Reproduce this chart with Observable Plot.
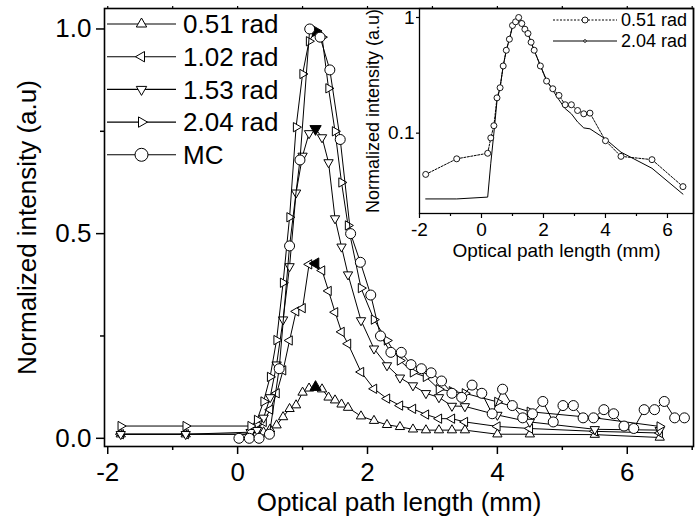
<!DOCTYPE html>
<html>
<head>
<meta charset="utf-8">
<script src="https://cdn.jsdelivr.net/npm/d3@7"></script>
<script src="https://cdn.jsdelivr.net/npm/@observablehq/plot@0.6"></script>
<style>
  body { margin: 0; background: #fff; }
  #chart { position: relative; width: 695px; height: 522px; }
  #chart svg { position: absolute; left: 0; top: 0; overflow: visible; max-width: none; }
</style>
</head>
<body>
<div id="chart"></div>
<script>
// Optical path length samples (mm) shared by the measured series
const sampleX = [-1.8, -0.8, 0.2, 0.3, 0.4, 0.5, 0.6, 0.7, 0.8, 0.9, 1.0, 1.1, 1.2, 1.3, 1.4, 1.5, 1.6, 1.7,
                 1.9, 2.1, 2.3, 2.5, 2.7, 2.9, 3.1, 3.3, 3.5, 4.0, 4.5, 5.5, 6.5];

// Measured intensity for each angle (main panel, linear scale)
const rad051 = [0.010, 0.010, 0.010, 0.012, 0.015, 0.022, 0.032, 0.052, 0.072, 0.081, 0.112, 0.122, 0.125, 0.120, 0.100, 0.093, 0.083, 0.075,
                0.054, 0.043, 0.033, 0.028, 0.022, 0.020, 0.020, 0.020, 0.020, 0.010, 0.010, 0.009, 0.002];
const rad102 = [0.010, 0.010, 0.010, 0.020, 0.040, 0.070, 0.110, 0.166, 0.239, 0.310, 0.318, 0.425, 0.427, 0.410, 0.360, 0.308, 0.260, 0.231,
                0.162, 0.121, 0.097, 0.080, 0.072, 0.058, 0.048, 0.048, 0.040, 0.029, 0.024, 0.017, 0.013];
const rad153 = [0.010, 0.010, 0.015, 0.020, 0.050, 0.100, 0.180, 0.290, 0.420, 0.600, 0.690, 0.745, 0.756, 0.735, 0.674, 0.537, 0.468, 0.400,
                0.288, 0.219, 0.178, 0.148, 0.129, 0.110, 0.100, 0.079, 0.078, 0.057, 0.040, 0.022, 0.020];
const rad204 = [0.030, 0.030, 0.030, 0.045, 0.090, 0.150, 0.240, 0.380, 0.540, 0.760, 0.890, 0.970, 0.995, 0.980, 0.855, 0.750, 0.625, 0.520,
                0.367, 0.290, 0.239, 0.190, 0.161, 0.150, 0.120, 0.115, 0.110, 0.089, 0.065, 0.050, 0.029];

// Monte Carlo simulation
const mcX = [0.02, 0.18, 0.33, 0.49, 0.64, 0.80, 0.96, 1.11, 1.27, 1.42, 1.58, 1.74, 1.89, 2.05, 2.20, 2.36, 2.52, 2.67, 2.83, 2.98,
             3.14, 3.30, 3.45, 3.61, 3.76, 3.92, 4.08, 4.23, 4.39, 4.54, 4.70, 4.86, 5.01, 5.17, 5.32, 5.48, 5.64, 5.79, 5.95, 6.10,
             6.26, 6.42, 6.57, 6.73, 6.88];
const mcY = [0.00, 0.00, 0.00, 0.01, 0.17, 0.47, 0.68, 1.00, 0.98, 0.90, 0.73, 0.50, 0.43, 0.35, 0.25, 0.21, 0.21, 0.18, 0.17, 0.16,
             0.14, 0.11, 0.10, 0.13, 0.11, 0.06, 0.12, 0.08, 0.05, 0.06, 0.09, 0.04, 0.08, 0.08, 0.05, 0.05, 0.07, 0.06, 0.03, 0.024,
             0.07, 0.07, 0.09, 0.05, 0.05];

// Inset: each curve normalized to its own maximum (log scale)
const insetRad051 = [0.044, 0.060, 0.067, 0.091, 0.116, 0.202, 0.247, 0.381, 0.521, 0.649, 0.853, 0.917, 1.000, 0.887, 0.792, 0.727, 0.611, 0.521,
                     0.381, 0.282, 0.242, 0.212, 0.176, 0.176, 0.157, 0.147, 0.149, 0.086, 0.063, 0.059, 0.0345];
const insetRad204 = [0.027, 0.027, 0.028, 0.055, 0.100, 0.190, 0.250, 0.380, 0.520, 0.650, 0.830, 0.940, 1.000, 0.940, 0.800, 0.730, 0.610, 0.520,
                     0.385, 0.287, 0.235, 0.194, 0.163, 0.147, 0.125, 0.111, 0.109, 0.089, 0.0685, 0.0497, 0.0297];

const seriesNames = ["0.51 rad", "1.02 rad", "1.53 rad", "2.04 rad", "MC"];
const peakX = 1.2;   // position of the highlighted maxima

const xTicks = [-2, 0, 2, 4, 6];
const xMinorTicks = [-1, 1, 3, 5, 7];
const yTicks = [0, 0.5, 1];
const yMinorTicks = [0.25, 0.75];
const insetYTicks = [0.1, 1];

const xLabel = "Optical path length (mm)";
const yLabel = "Normalized intensity (a.u)";

const fontFamily = '"Liberation Sans", Arial, Helvetica, sans-serif';

// Triangle marker pointing in a given direction (d3 symbol type)
function triangle(angle) {
  return {
    draw(ctx, size) {
      const R = Math.sqrt(size / Math.PI) * 1.25;
      for (let i = 0; i < 3; i++) {
        const a = angle + i * 2 * Math.PI / 3;
        const px = R * Math.cos(a), py = R * Math.sin(a);
        if (i === 0) ctx.moveTo(px, py); else ctx.lineTo(px, py);
      }
      ctx.closePath();
    }
  };
}
const symUp = triangle(-Math.PI / 2);
const symLeft = triangle(Math.PI);
const symDown = triangle(Math.PI / 2);
const symRight = triangle(0);

const measured = [
  {name: seriesNames[0], values: rad051, symbol: symUp},
  {name: seriesNames[1], values: rad102, symbol: symLeft},
  {name: seriesNames[2], values: rad153, symbol: symDown},
  {name: seriesNames[3], values: rad204, symbol: symRight}
];
const toRows = (xs, ys) => xs.map((x, i) => ({x, y: ys[i]}));
const mcRows = toRows(mcX, mcY);

const seriesMarks = measured.flatMap(s => {
  const rows = toRows(sampleX, s.values);
  return [
    Plot.line(rows, {x: "x", y: "y", stroke: "#000", strokeWidth: 1}),
    Plot.dot(rows.filter(d => d.x !== peakX), {x: "x", y: "y", symbol: s.symbol, r: 4.3, fill: "#fff", stroke: "#000", strokeWidth: 1}),
    Plot.dot(rows.filter(d => d.x === peakX), {x: "x", y: "y", symbol: s.symbol, r: 5.2, fill: "#000", stroke: "#000", strokeWidth: 1})
  ];
});

const main = Plot.plot({
  width: 695,
  height: 522,
  marginLeft: 104,
  marginRight: 2,
  marginTop: 8,
  marginBottom: 76,
  style: {fontFamily, color: "#000", background: "transparent", overflow: "visible"},
  x: {domain: [-2.05, 7.02]},
  y: {domain: [-0.02, 1.05]},
  marks: [
    ...seriesMarks,
    Plot.line(mcRows, {x: "x", y: "y", stroke: "#000", strokeWidth: 1}),
    Plot.dot(mcRows, {x: "x", y: "y", r: 5, fill: "#fff", stroke: "#000", strokeWidth: 1}),
    Plot.frame({stroke: "#000", strokeWidth: 1.6}),
    Plot.axisX(xTicks, {tickSize: 8, tickPadding: 8, strokeWidth: 1.5, fontSize: 26, tickFormat: d => String(d), label: null}),
    Plot.axisX(xMinorTicks, {tickSize: 4, strokeWidth: 1.5, tickFormat: () => "", label: null}),
    Plot.axisX(d3.range(-2, 8), {anchor: "top", tickSize: 3, strokeWidth: 1.2, tickFormat: () => "", label: null}),
    Plot.axisY(yTicks, {tickSize: 8, tickPadding: 5, strokeWidth: 1.5, fontSize: 26, tickFormat: d3.format(".1f"), label: null}),
    Plot.axisY(yMinorTicks, {tickSize: 4, strokeWidth: 1.5, tickFormat: () => "", label: null}),
    Plot.text([xLabel], {frameAnchor: "bottom", dy: 56, lineAnchor: "middle", textAnchor: "middle", fontSize: 26, text: d => d}),
    Plot.text([yLabel], {frameAnchor: "left", dx: -77, rotate: -90, lineAnchor: "middle", textAnchor: "middle", fontSize: 26, text: d => d})
  ]
});

// Legend of the main panel
const legendItems = [...measured, {name: seriesNames[4], symbol: d3.symbolCircle, circle: true}];
const lg = d3.select(main).append("g")
  .attr("font-family", fontFamily).attr("font-size", 26).attr("text-anchor", "start");
legendItems.forEach((s, i) => {
  const y = 24 + i * 32.7;
  lg.append("line").attr("x1", 107).attr("x2", 176).attr("y1", y).attr("y2", y).attr("stroke", "#000").attr("stroke-width", 1.1);
  const r = s.circle ? 6.5 : 4.8;
  lg.append("path").attr("transform", `translate(141.5,${y})`)
    .attr("d", d3.symbol(s.symbol, Math.PI * r * r)())
    .attr("fill", "#fff").attr("stroke", "#000");
  lg.append("text").attr("x", 183).attr("y", y).attr("dy", "0.36em").text(s.name);
});

// Inset: log-scale comparison of the extreme angles
const inset051 = toRows(sampleX, insetRad051);
const inset204 = toRows(sampleX, insetRad204);
const inset = Plot.plot({
  width: 695,
  height: 270,
  marginLeft: 419,
  marginRight: 2,
  marginTop: 8,
  marginBottom: 57,
  style: {fontFamily, color: "#000", background: "transparent", overflow: "visible"},
  x: {domain: [-2, 6.84]},
  y: {type: "log", domain: [0.0202, 1.196]},
  marks: [
    Plot.line(inset204, {x: "x", y: "y", stroke: "#000", strokeWidth: 1}),
    Plot.line(inset051, {x: "x", y: "y", stroke: "#000", strokeWidth: 1, strokeDasharray: "2,1.5"}),
    Plot.dot(inset051, {x: "x", y: "y", r: 3, fill: "#fff", stroke: "#000", strokeWidth: 0.9}),
    Plot.frame({stroke: "#000", strokeWidth: 1.3}),
    Plot.axisX(xTicks, {tickSize: 5, tickPadding: 4, strokeWidth: 1.2, fontSize: 19, tickFormat: d => String(d), label: null}),
    Plot.axisX(xMinorTicks.filter(d => d < 6.84), {tickSize: 3, strokeWidth: 1.2, tickFormat: () => "", label: null}),
    Plot.axisY(insetYTicks, {tickSize: 3, tickPadding: 2, strokeWidth: 1.2, fontSize: 19, tickFormat: d => String(d), label: null}),
    Plot.text([xLabel], {frameAnchor: "bottom", dy: 37, lineAnchor: "middle", textAnchor: "middle", fontSize: 19, text: d => d}),
    Plot.text([yLabel], {frameAnchor: "left", dx: -46, rotate: -90, lineAnchor: "middle", textAnchor: "middle", fontSize: 18, text: d => d})
  ]
});

// Legend of the inset
const ig = d3.select(inset).append("g")
  .attr("font-family", fontFamily).attr("font-size", 18).attr("text-anchor", "start");
[
  {name: seriesNames[0], dash: "2,1.5", r: 3},
  {name: seriesNames[3], dash: null, r: 1.3}
].forEach((s, i) => {
  const y = 20 + i * 21;
  const line = ig.append("line").attr("x1", 553).attr("x2", 617).attr("y1", y).attr("y2", y).attr("stroke", "#000");
  if (s.dash) line.attr("stroke-dasharray", s.dash);
  ig.append("circle").attr("cx", 585).attr("cy", y).attr("r", s.r).attr("fill", "#fff").attr("stroke", "#000").attr("stroke-width", 0.9);
  ig.append("text").attr("x", 621).attr("y", y).attr("dy", "0.36em").text(s.name);
});

const container = document.getElementById("chart");
container.append(main);
container.append(inset);
</script>
</body>
</html>
